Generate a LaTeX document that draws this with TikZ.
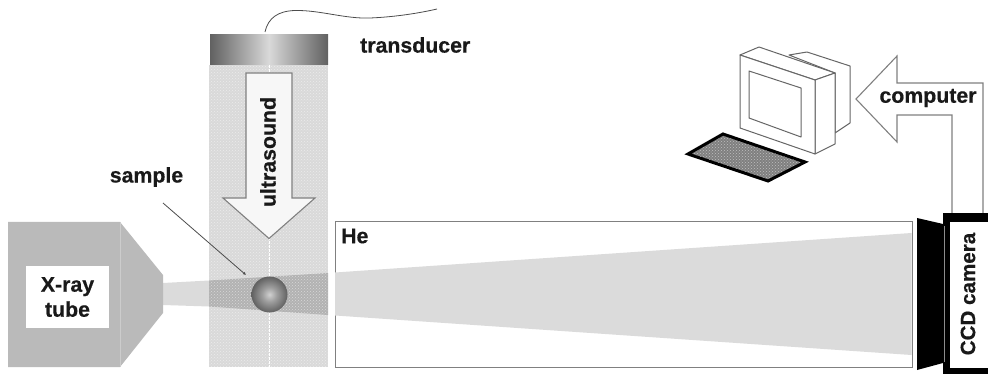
\documentclass[tikz,border=0pt]{standalone}
\usepackage{fontspec}
\setmainfont{Liberation Sans}[BoldFeatures={FakeBold=0.5}]
\usetikzlibrary{shadings,patterns,arrows.meta}
\definecolor{linegray}{gray}{0.5}
\definecolor{tubegray}{gray}{0.73}
\definecolor{beamgray}{gray}{0.86}
\definecolor{bandgray}{gray}{0.85}
\definecolor{overlapgray}{gray}{0.70}
\pgfdeclareradialshading{ballshade}{\pgfpoint{0bp}{0bp}}{
  color(0bp)=(black!18); color(10bp)=(black!38); color(25bp)=(black!62); color(50bp)=(black!62)}
\tikzset{
  x=1pt,y=-1pt,
  lab/.style={font=\bfseries\fontsize{21.3}{25}\selectfont,inner sep=0pt,align=center,text=black!90},
  thinline/.style={draw=linegray,line width=1.1pt,line join=miter},
  block/.style={fill=white,draw=none,inner sep=0pt},
  stipple/.style={pattern=crosshatch dots,pattern color=white,fill opacity=0.5},
}
\begin{document}
\begin{tikzpicture}
\useasboundingbox (0,0) rectangle (988,374);
% ultrasound column
\fill[bandgray] (209,65) rectangle (328,367);
% x-ray beam, free path
\fill[beamgray] (163,283) -- (209,280.5) -- (209,306.5) -- (163,305) -- cycle;
\fill[overlapgray] (209,280.5) -- (328,273) -- (328,315) -- (209,306.5) -- cycle;
\fill[stipple] (209,65) rectangle (328,367);
\draw[white,line width=0.8pt,dashed,dash pattern=on 3pt off 1pt] (269,65) -- (269,367);
% x-ray tube
\fill[tubegray] (8,222) -- (120,222) -- (163,275) -- (163,313) -- (120,367) -- (8,367) -- cycle;
\draw[black!20,line width=0.5pt] (120,222) -- (120,367);
\node[block,minimum width=83pt,minimum height=62pt] (tubelabel) at (67.5,297) {};
\node[lab] (xray) at (67.5,297) {X-ray\\tube};
% helium chamber with the beam crossing it
\node[thinline,fill=white,minimum width=577pt,minimum height=146pt,inner sep=0pt,anchor=north west] (he) at (334.5,221) {};
\fill[beamgray] (335.2,272.5) -- (911.5,233) -- (911.5,355) -- (335.2,315.5) -- cycle;
\node[lab,anchor=west] (helabel) at (341,236) {He};
% transducer
\shade[left color=black!62,right color=black!62,middle color=black!15] (210,35) rectangle (328,65);
\draw[black!70,line width=0.8pt] (265,32) .. controls (268,18) and (278,11) .. (295,10.5)
  .. controls (320,10) and (345,19) .. (370,18) .. controls (395,17) and (420,13) .. (437,9);
\node[lab,anchor=west] (translabel) at (360,45) {transducer};
% ultrasound arrow
\draw[thinline,fill=black!3] (246,73) -- (292,73) -- (292,198) -- (315,198) -- (269,238.5) -- (223,198) -- (246,198) -- cycle;
\node[lab,rotate=90] (uslabel) at (268,152) {ultrasound};
% sample and its pointer
\node[lab] (samplelabel) at (146.5,177) {sample};
\shade[shading=ballshade] (269.5,294.5) circle (18);
\coordinate (sampletip) at (246,275);
\draw[black!70,line width=0.8pt,-{Latex[length=3pt,width=3pt]}] (163,203) -- (sampletip);
% ccd camera
\fill[black] (917,218) -- (943,224) -- (943,363) -- (917,370) -- cycle;
\fill[black] (943,213) rectangle (988,374);
\draw[black!45,line width=0.7pt] (944,226) -- (944,362);
\node[block,minimum width=38pt,minimum height=146pt,anchor=north west] (ccdbox) at (950,222) {};
\node[lab,rotate=90,font=\bfseries\fontsize{20.6}{24}\selectfont] (ccdlabel) at (968,294) {CCD camera};
% arrow to the computer
\draw[thinline,fill=white] (952,213) -- (952,115) -- (897,115) -- (897,142) -- (856,99) -- (897,56) -- (897,83) -- (983,83) -- (983,213);
\node[lab] (complabel) at (928,98) {computer};
% monitor
\begin{scope}[draw=black!60,line width=1pt,line join=round,fill=white]
  \filldraw (789,55) -- (807,52) -- (850,66) -- (850,123) -- (835,133) -- (835,73) -- cycle;
  \filldraw (740,55) -- (759,47) -- (835,73) -- (815,80) -- cycle;
  \filldraw (815,80) -- (835,73) -- (835,144) -- (815,154) -- cycle;
  \filldraw (740,55) -- (815,80) -- (815,154) -- (740,128) -- cycle;
  \filldraw (749,71) -- (801,88) -- (801,137) -- (749,118) -- cycle;
\end{scope}
% keyboard
\filldraw[black,line width=3pt,line join=miter,fill=black!50] (723,134) -- (805,162) -- (768,181) -- (688,154) -- cycle;
\fill[stipple] (723,136) -- (801,162) -- (768,179) -- (692,154) -- cycle;
\end{tikzpicture}
\end{document}
